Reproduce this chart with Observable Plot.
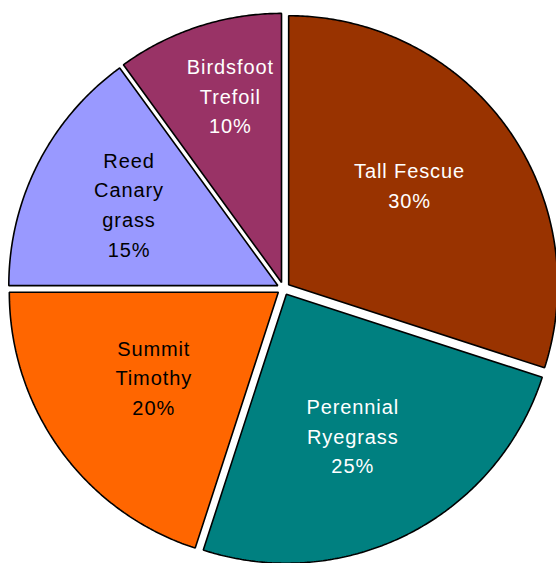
<!DOCTYPE html>
<html>
<head>
<meta charset="utf-8">
<script src="https://cdn.jsdelivr.net/npm/d3@7"></script>
<script src="https://cdn.jsdelivr.net/npm/@observablehq/plot@0.6"></script>
<style>
  html, body { margin: 0; padding: 0; background: #fff; }
</style>
</head>
<body>
<div id="chart"></div>
<script>
// ---- data ----
const categories = ["Tall Fescue", "Perennial Ryegrass", "Summit Timothy", "Reed Canary grass", "Birdsfoot Trefoil"];
const labelLines = ["Tall Fescue", "Perennial\nRyegrass", "Summit\nTimothy", "Reed\nCanary\ngrass", "Birdsfoot\nTrefoil"];
const values = [30, 25, 20, 15, 10];
const colors = ["#993300", "#008080", "#FF6600", "#9999FF", "#993366"];
const textColors = ["white", "white", "black", "black", "white"];

// ---- layout ----
const W = 556, H = 563;
const cx = 283, cy = 288, R = 269, explode = 6.4;
const labelDist = [153, 161, 154, 167, 188];   // radial distance of label from slice apex
const labelShift = [-5, 7.6, 0, 0, 7.3];       // tangential shift of label (clockwise)
const labelDy = -7;

const total = d3.sum(values);
const arcs = d3.pie().sort(null).value(d => d)(values);

const points = [];
const labels = [];
arcs.forEach((a, i) => {
  const mid = (a.startAngle + a.endAngle) / 2;
  const s = Math.sin(mid), c = Math.cos(mid);
  const ox = cx + explode * s;
  const oy = cy - explode * c;
  points.push({name: categories[i], x: ox, y: oy, fill: colors[i]});
  const n = Math.max(2, Math.ceil((a.endAngle - a.startAngle) / (Math.PI / 360)));
  for (let k = 0; k <= n; k++) {
    const t = a.startAngle + (a.endAngle - a.startAngle) * k / n;
    points.push({name: categories[i], x: ox + R * Math.sin(t), y: oy - R * Math.cos(t), fill: colors[i]});
  }
  labels.push({
    text: labelLines[i] + "\n" + Math.round(values[i] / total * 100) + "%",
    x: ox + labelDist[i] * s + labelShift[i] * c,
    y: oy - labelDist[i] * c + labelShift[i] * s + labelDy,
    color: textColors[i]
  });
});

const chart = Plot.plot({
  width: W,
  height: H,
  margin: 0,
  x: {domain: [0, W], range: [0, W], axis: null},
  y: {domain: [0, H], range: [0, H], axis: null},
  color: {type: "identity"},
  style: {background: "white", fontFamily: "'Liberation Sans', Arial, sans-serif", letterSpacing: "0.9px"},
  marks: [
    Plot.line(points, {x: "x", y: "y", z: "name", fill: "fill", stroke: "black", strokeWidth: 1.6, curve: "linear-closed", strokeLinejoin: "miter"}),
    Plot.text(labels, {x: "x", y: "y", text: "text", fill: "color", fontSize: 20, lineHeight: 1.48, textAnchor: "middle", lineAnchor: "middle"})
  ]
});
document.getElementById("chart").appendChild(chart);
</script>
</body>
</html>
